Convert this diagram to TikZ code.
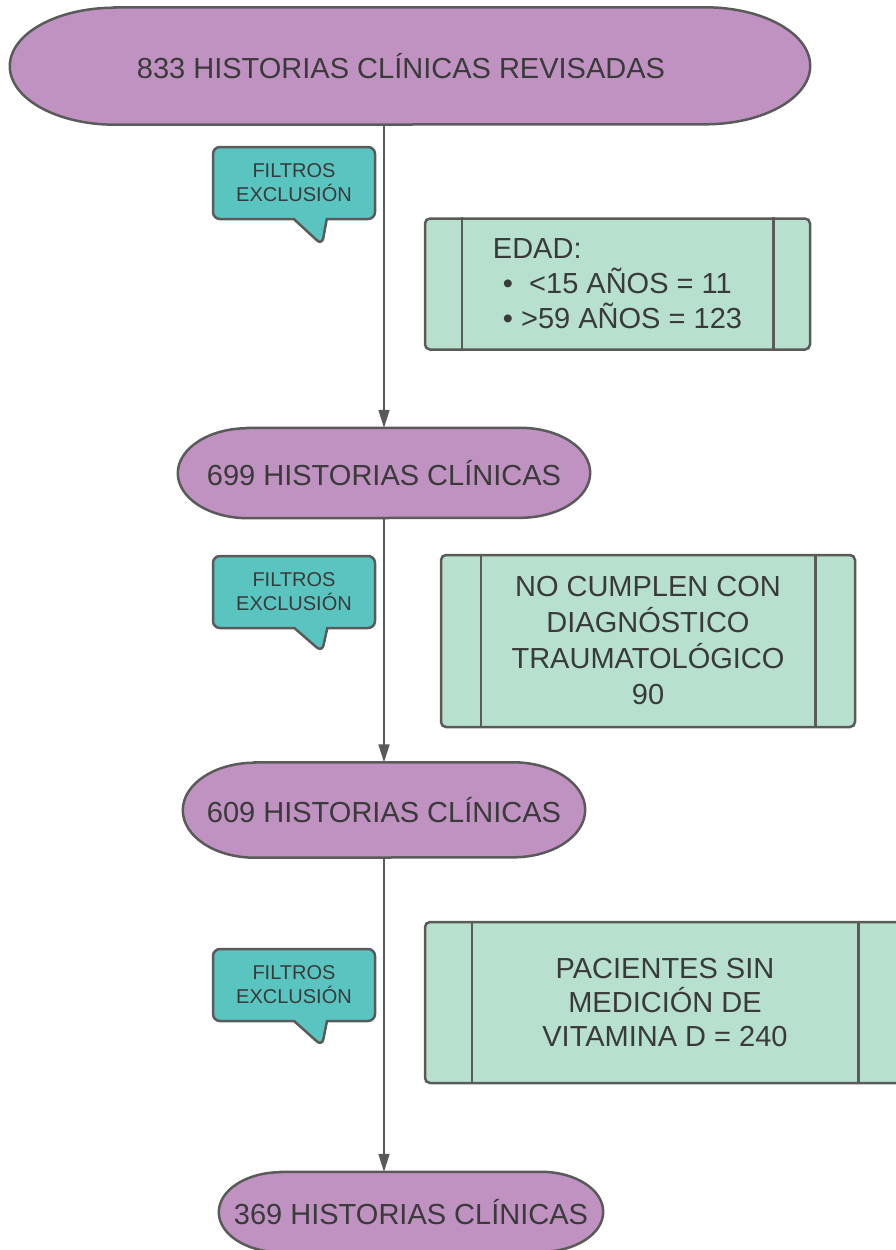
\documentclass[tikz,border=0pt]{standalone}
\usepackage{fontspec}
\setmainfont{Liberation Sans}
\usetikzlibrary{arrows.meta,shapes.callouts,backgrounds}
\definecolor{HCmorado}  {HTML}{C092C1}
\definecolor{HCturquesa}{HTML}{5AC4C0}
\definecolor{HCmenta}   {HTML}{B7E0CF}
\definecolor{HCborde}   {HTML}{5A5A5A}
\definecolor{HCtexto}   {HTML}{3A3A3A}
% terminal con extremos elipticos: nodo, radio x, radio y
\newcommand{\terminal}[3]{%
  \filldraw[estadio] ([xshift=#2]#1.north west) -- ([xshift=-#2]#1.north east)
    arc[start angle=90,end angle=-90,x radius=#2,y radius=#3] -- ([xshift=#2]#1.south west)
    arc[start angle=270,end angle=90,x radius=#2,y radius=#3] -- cycle;}

\begin{document}
\begin{tikzpicture}[x=1pt,y=-1pt,
  historia/.style={rectangle, text=HCtexto, font=\fontsize{29}{35}\selectfont, inner sep=0pt},
  estadio/.style={draw=HCborde, line width=2.5pt, fill=HCmorado},
  filtro/.style={rectangle callout, draw=HCborde, line width=2.5pt, fill=HCturquesa,
                 rounded corners=7pt, text=HCtexto, font=\fontsize{20}{24}\selectfont,
                 align=center, minimum width=162pt, minimum height=72pt,
                 callout pointer width=33pt, inner sep=0pt},
  motivo/.style={rectangle, draw=HCborde, line width=2.5pt, fill=HCmenta, rounded corners=5pt,
                 text=HCtexto, align=center, inner sep=0pt},
  franja/.style={draw=HCborde, line width=2.5pt},
  flecha/.style={draw=HCborde, line width=1.8pt, -{Triangle[length=18pt,width=11pt]}}]
\useasboundingbox (0,0) rectangle (895,1250);

\node[historia, minimum width=800pt, minimum height=117pt] (hc833) at (410,66) {833 HISTORIAS CLÍNICAS REVISADAS\hspace*{18pt}};
\node[historia, minimum width=412pt, minimum height=90pt] (hc699) at (384,473) {699 HISTORIAS CLÍNICAS};
\node[historia, minimum width=402pt, minimum height=95pt] (hc609) at (384,810) {609 HISTORIAS CLÍNICAS};
\node[historia, minimum width=384pt, minimum height=80pt] (hc369) at (411,1212) {369 HISTORIAS CLÍNICAS};
\begin{scope}[on background layer]
  \terminal{hc833}{105pt}{58.5pt}
  \terminal{hc699}{70pt}{45pt}
  \terminal{hc609}{72pt}{47.5pt}
  \terminal{hc369}{62pt}{40pt}
\end{scope}

% filtros
\node[filtro, callout absolute pointer={(322,245)}] (filtro1) at (294,183) {FILTROS\\EXCLUSIÓN};
\node[filtro, callout absolute pointer={(322,652)}] (filtro2) at (294,592) {FILTROS\\EXCLUSIÓN};
\node[filtro, callout absolute pointer={(322,1046)}] (filtro3) at (294,985) {FILTROS\\EXCLUSIÓN};

% motivos de exclusion
\node[motivo, align=left, minimum width=385pt, minimum height=131pt, font=\fontsize{29}{35}\selectfont] (edad) at (617.5,284)
  {EDAD:\\\hspace*{10pt}\textbullet\ \ <15 AÑOS = 11\\\hspace*{10pt}\textbullet\ >59 AÑOS = 123};
\draw[franja] ([xshift=38pt]edad.north west) -- ([xshift=38pt]edad.south west);
\draw[franja] ([xshift=-38pt]edad.north east) -- ([xshift=-38pt]edad.south east);

\node[motivo, minimum width=414pt, minimum height=172pt, font=\fontsize{29}{36}\selectfont] (diagnostico) at (648,641)
  {NO CUMPLEN CON\\DIAGNÓSTICO\\TRAUMATOLÓGICO\\90};
\draw[franja] ([xshift=41pt]diagnostico.north west) -- ([xshift=41pt]diagnostico.south west);
\draw[franja] ([xshift=-41pt]diagnostico.north east) -- ([xshift=-41pt]diagnostico.south east);

\node[motivo, minimum width=480pt, minimum height=161pt, font=\fontsize{29}{34}\selectfont] (vitamina) at (665,1002.5)
  {PACIENTES SIN\\MEDICIÓN DE\\VITAMINA D = 240};
\draw[franja] ([xshift=48pt]vitamina.north west) -- ([xshift=48pt]vitamina.south west);
\draw[franja] ([xshift=-48pt]vitamina.north east) -- ([xshift=-48pt]vitamina.south east);

% flujo
\draw[flecha] (hc699.north |- hc833.south) -- (hc699.north);
\draw[flecha] (hc699.south) -- (hc609.north);
\draw[flecha] (hc609.south) -- (hc609.south |- hc369.north);
\end{tikzpicture}
\end{document}
